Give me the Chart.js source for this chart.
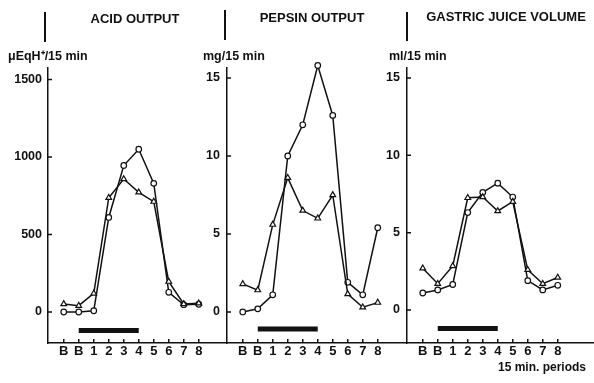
<!DOCTYPE html>
<html>
<head>
<meta charset="utf-8">
<script src="https://cdn.jsdelivr.net/npm/chart.js@4"></script>
<style>
  body { margin: 0; background: #fff; }
  #wrap { position: relative; width: 594px; height: 383px; overflow: hidden;
          font-family: "Liberation Sans", Arial, sans-serif; font-weight: bold; color: #111; }
  canvas { position: absolute; top: 0; }
  .lbl { position: absolute; white-space: nowrap; line-height: 14px; }
  .title { font-size: 13px; transform: translateX(-50%); }
  .unit { font-size: 12.5px; }
  .sep { position: absolute; width: 1.5px; background: #111; }
</style>
</head>
<body>
<div id="wrap">
  <canvas id="acid" width="227" height="383" style="left:0"></canvas>
  <canvas id="pepsin" width="220" height="383" style="left:187px"></canvas>
  <canvas id="volume" width="227" height="383" style="left:367px"></canvas>

  <div class="sep" style="left:44px;top:12px;height:30px"></div>
  <div class="sep" style="left:224px;top:10px;height:30px"></div>
  <div class="sep" style="left:406px;top:12px;height:29px"></div>

  <div class="lbl title" style="left:135px;top:12px">ACID OUTPUT</div>
  <div class="lbl title" style="left:312px;top:11px">PEPSIN OUTPUT</div>
  <div class="lbl title" style="left:506px;top:10px">GASTRIC JUICE VOLUME</div>

  <div class="lbl unit" style="left:8px;top:49px">μEqH⁺/15 min</div>
  <div class="lbl unit" style="left:203px;top:49px">mg/15 min</div>
  <div class="lbl unit" style="left:389px;top:49px">ml/15 min</div>

  <div class="lbl" style="left:498px;top:360px;font-size:12px">15 min. periods</div>
</div>
<script>
const periods = ['B', 'B', '1', '2', '3', '4', '5', '6', '7', '8'];

const acidCircles = [0, 0, 8, 610, 945, 1050, 830, 127, 47, 50];
const acidTriangles = [52, 41, 120, 737, 858, 772, 712, 196, 52, 56];
const acidTicks = [0, 500, 1000, 1500];

const pepsinCircles = [0, 0.2, 1.1, 10.0, 12.0, 15.8, 12.6, 1.9, 1.1, 5.4];
const pepsinTriangles = [1.8, 1.4, 5.6, 8.6, 6.5, 6.0, 7.5, 1.15, 0.3, 0.6];
const pepsinTicks = [0, 5, 10, 15];

const volumeCircles = [1.1, 1.3, 1.65, 6.3, 7.6, 8.2, 7.3, 1.9, 1.3, 1.6];
const volumeTriangles = [2.7, 1.7, 2.85, 7.25, 7.3, 6.4, 7.0, 2.6, 1.7, 2.1];
const volumeTicks = [0, 5, 10, 15];

// stimulation period: from the second basal period (index 1) to period "4" (index 5)
const stimFrom = 1;
const stimTo = 5;

const ink = '#111';
const tickFont = { family: '"Liberation Sans", Arial, sans-serif', weight: 'bold', size: 12.5 };

// small tick marks pointing into the plot, like the original
const innerTicks = {
    id: 'innerTicks',
    beforeDatasetsDraw(chart) {
        const ctx = chart.ctx;
        const x = chart.scales.x;
        const y = chart.scales.y;
        ctx.save();
        ctx.strokeStyle = ink;
        ctx.lineWidth = 1.5;
        ctx.beginPath();
        x.ticks.forEach(t => {
            const px = x.getPixelForValue(t.value);
            ctx.moveTo(px, x.top);
            ctx.lineTo(px, x.top - 4);
        });
        y.ticks.forEach(t => {
            const py = y.getPixelForValue(t.value);
            ctx.moveTo(y.right, py);
            ctx.lineTo(y.right + 4, py);
        });
        ctx.stroke();
        ctx.restore();
    }
};

function makePanel(id, circles, triangles, yTicks, opts) {
    const toPoints = arr => arr.map((v, i) => ({ x: i, y: v }));
    const width = document.getElementById(id).width;
    const xMin = -1.05;
    const xMax = xMin + (width - opts.yWidth) / 15;

    new Chart(document.getElementById(id), {
        type: 'line',
        data: {
            datasets: [
                {
                    data: [{ x: stimFrom, y: opts.barLevel }, { x: stimTo, y: opts.barLevel }],
                    borderColor: ink,
                    borderWidth: 5,
                    borderCapStyle: 'butt',
                    pointRadius: 0
                },
                {
                    data: toPoints(triangles),
                    borderColor: ink,
                    borderWidth: 1.5,
                    pointStyle: 'triangle',
                    pointRadius: 3.3,
                    pointBorderWidth: 1.2,
                    pointBackgroundColor: '#fff',
                    pointBorderColor: ink,
                    clip: false
                },
                {
                    data: toPoints(circles),
                    borderColor: ink,
                    borderWidth: 1.5,
                    pointStyle: 'circle',
                    pointRadius: 2.8,
                    pointBorderWidth: 1.2,
                    pointBackgroundColor: '#fff',
                    pointBorderColor: ink,
                    clip: false
                }
            ]
        },
        options: {
            responsive: false,
            animation: false,
            layout: { autoPadding: false, padding: { left: 0, right: 0, top: 68, bottom: 0 } },
            plugins: { legend: { display: false }, tooltip: { enabled: false } },
            scales: {
                x: {
                    type: 'linear',
                    min: xMin,
                    max: xMax,
                    afterBuildTicks: scale => {
                        scale.ticks = periods.map((p, i) => ({ value: i }));
                    },
                    afterFit: scale => {
                        scale.height = 40;
                        scale.paddingLeft = 0;
                        scale.paddingRight = 0;
                    },
                    grid: { display: false, drawTicks: false },
                    border: { display: true, color: ink, width: 1.5 },
                    ticks: {
                        color: ink,
                        font: { ...tickFont, size: 13 },
                        padding: 1,
                        maxRotation: 0,
                        autoSkip: false,
                        callback: v => periods[v]
                    }
                },
                y: {
                    min: opts.yMin,
                    max: opts.yMax,
                    afterBuildTicks: scale => {
                        scale.ticks = yTicks.map(v => ({ value: v }));
                    },
                    afterFit: scale => {
                        scale.width = opts.yWidth;
                        scale.paddingTop = 0;
                        scale.paddingBottom = 0;
                    },
                    grid: { display: false, drawTicks: false },
                    border: { display: true, color: ink, width: 1.5 },
                    ticks: {
                        color: ink,
                        font: tickFont,
                        padding: opts.labelPad,
                        callback: v => String(v)
                    }
                }
            }
        },
        plugins: [innerTicks]
    });
}

makePanel('acid', acidCircles, acidTriangles, acidTicks,
    { yMin: -200, yMax: 1574, yWidth: 48, barLevel: -120, labelPad: 6 });
makePanel('pepsin', pepsinCircles, pepsinTriangles, pepsinTicks,
    { yMin: -1.99, yMax: 15.64, yWidth: 40, barLevel: -1.1, labelPad: 7 });
makePanel('volume', volumeCircles, volumeTriangles, volumeTicks,
    { yMin: -2.13, yMax: 15.64, yWidth: 40, barLevel: -1.2, labelPad: 7 });
</script>
</body>
</html>
